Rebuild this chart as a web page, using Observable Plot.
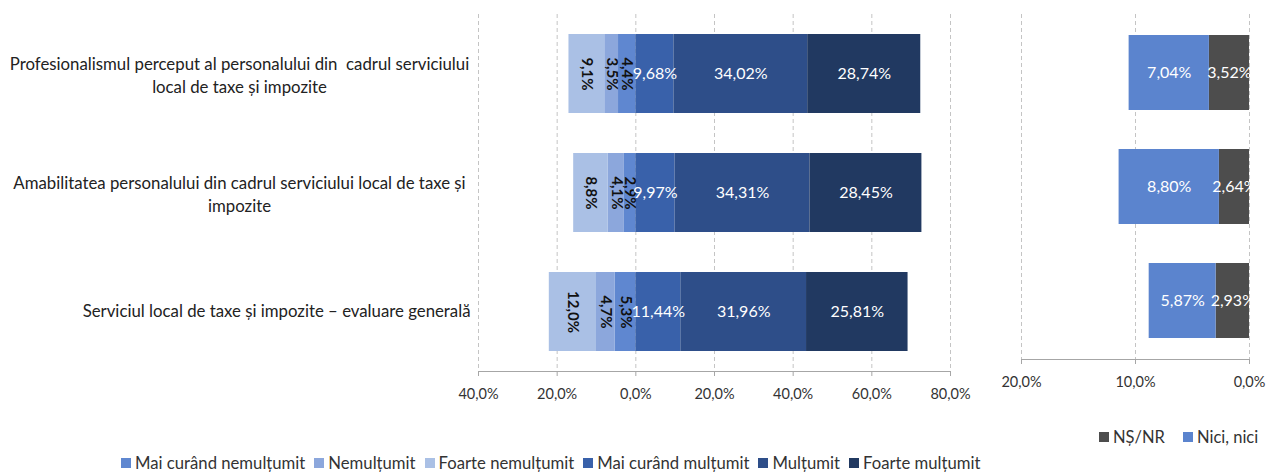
<!DOCTYPE html>
<html>
<head>
<meta charset="utf-8">
<script src="https://cdn.jsdelivr.net/npm/d3@7"></script>
<script src="https://cdn.jsdelivr.net/npm/@observablehq/plot@0.6"></script>
<style>
  html, body { margin: 0; padding: 0; background: #fff; }
  #wrap { position: relative; width: 1268px; height: 473px; overflow: hidden; font-family: Lato, sans-serif; color: #333; }
  #left { position: absolute; left: 0; top: 0; }
  #right { position: absolute; left: 1000px; top: 0; }
  .legend { position: absolute; display: flex; align-items: center; white-space: nowrap; color: #333; }
  .legend .item { display: inline-flex; align-items: center; }
  .legend .sw { width: 10px; height: 10px; margin-right: 4px; display: inline-block; }
  #legend1 { left: 121px; top: 453px; font-size: 16.7px; }
  #legend1 .item { margin-right: 9px; }
  #legend2 { left: 1099px; top: 427px; font-size: 16.5px; }
  #legend2 .item { margin-right: 18px; }
  #legend2 .item:last-child { margin-right: 0; }
</style>
</head>
<body>
<div id="wrap">
  <div id="left"></div>
  <div id="right"></div>
  <div id="legend1" class="legend"></div>
  <div id="legend2" class="legend"></div>
</div>
<script>
// ---- Data ----
const categories = [
  "Profesionalismul perceput al personalului din cadrul serviciului local de taxe și impozite",
  "Amabilitatea personalului din cadrul serviciului local de taxe și impozite",
  "Serviciul local de taxe și impozite – evaluare generală"
];
const categoryLines = [
  "Profesionalismul perceput al personalului din  cadrul serviciului\nlocal de taxe și impozite",
  "Amabilitatea personalului din cadrul serviciului local de taxe și\nimpozite",
  "Serviciul local de taxe și impozite – evaluare generală"
];

const leftSeries = ["Mai curând nemulțumit", "Nemulțumit", "Foarte nemulțumit", "Mai curând mulțumit", "Mulțumit", "Foarte mulțumit"];
const negativeSeries = ["Mai curând nemulțumit", "Nemulțumit", "Foarte nemulțumit"];

const maiCurandNemultumit = [4.4, 2.9, 5.3];
const nemultumit = [3.5, 4.1, 4.7];
const foarteNemultumit = [9.1, 8.8, 12.0];
const maiCurandMultumit = [9.68, 9.97, 11.44];
const multumit = [34.02, 34.31, 31.96];
const foarteMultumit = [28.74, 28.45, 25.81];

const rightSeries = ["NȘ/NR", "Nici, nici"];
const nsnr = [3.52, 2.64, 2.93];
const niciNici = [7.04, 8.80, 5.87];

const leftTicks = [-40, -20, 0, 20, 40, 60, 80];
const rightTicks = [0, 10, 20];

// ---- Styles ----
const leftColors = ["#5f87d0", "#8ca7dc", "#aac0e5", "#3961aa", "#2e4e89", "#213961"];
const rightColors = ["#4d4d4d", "#5b84ce"];

// ---- Build tables ----
const leftValues = [maiCurandNemultumit, nemultumit, foarteNemultumit, maiCurandMultumit, multumit, foarteMultumit];
const leftData = [];
categories.forEach((c, i) => {
  leftSeries.forEach((s, j) => {
    const v = leftValues[j][i];
    leftData.push({category: c, series: s, value: negativeSeries.includes(s) ? -v : v});
  });
});
const rightValues = [nsnr, niciNici];
const rightData = [];
categories.forEach((c, i) => {
  rightSeries.forEach((s, j) => rightData.push({category: c, series: s, value: rightValues[j][i]}));
});

const labelOf = d => categoryLines[categories.indexOf(d)];
const multiLineCats = categories.filter(c => labelOf(c).includes("\n"));
const singleLineCats = categories.filter(c => !labelOf(c).includes("\n"));

const fmt1 = v => v.toFixed(1).replace(".", ",") + "%";
const fmt2 = v => v.toFixed(2).replace(".", ",") + "%";
const axisFmt = v => Math.abs(v).toFixed(1).replace(".", ",") + "%";

const gridColor = "#c4c4c4";
const axisColor = "#a6a6a6";

const left = Plot.plot({
  width: 1000,
  height: 411,
  marginLeft: 478,
  marginRight: 50,
  marginTop: 14,
  marginBottom: 40,
  style: {fontFamily: "Lato, sans-serif", fontSize: "15px", color: "#333", background: "transparent"},
  x: {domain: [-40, 80], label: null},
  y: {domain: categories, paddingInner: 0.336, paddingOuter: 0.168, label: null},
  color: {domain: leftSeries, range: leftColors},
  marks: [
    Plot.gridX(leftTicks, {stroke: gridColor, strokeOpacity: 1, strokeDasharray: "4,3"}),
    Plot.barX(leftData, Plot.stackX({x: "value", y: "category", fill: "series"})),
    Plot.text(leftData, Plot.stackX({
      x: "value", y: "category", z: "series",
      text: d => d.value < 0 ? fmt1(-d.value) : null,
      rotate: 90, fontWeight: "bold", fill: "#111", fontSize: 15
    })),
    Plot.text(leftData, Plot.stackX({
      x: "value", y: "category", z: "series",
      text: d => d.value > 0 ? fmt2(d.value) : null,
      fill: "white", fontSize: 16
    })),
    Plot.frame({anchor: "bottom", stroke: axisColor}),
    Plot.axisX(leftTicks, {tickFormat: axisFmt, tickSize: 5, tickPadding: 12, stroke: axisColor, fill: "#333", fontSize: 14.5, label: null}),
    Plot.axisY(multiLineCats, {
      tickSize: 0, tickPadding: 239, textAnchor: "middle", lineHeight: 1.4,
      tickFormat: labelOf, fontSize: 16.8, fill: "#222", label: null
    }),
    Plot.axisY(singleLineCats, {
      tickSize: 0, tickPadding: 8, textAnchor: "end",
      tickFormat: labelOf, fontSize: 16.8, fill: "#222", label: null
    })
  ]
});
document.getElementById("left").appendChild(left);

const right = Plot.plot({
  width: 268,
  height: 399,
  marginLeft: 21,
  marginRight: 19,
  marginTop: 14,
  marginBottom: 40,
  style: {fontFamily: "Lato, sans-serif", fontSize: "15px", color: "#333", background: "transparent"},
  x: {domain: [0, 20], reverse: true, label: null},
  y: {domain: categories, paddingInner: 0.339, paddingOuter: 0.17, axis: null},
  color: {domain: rightSeries, range: rightColors},
  marks: [
    Plot.gridX(rightTicks, {stroke: gridColor, strokeOpacity: 1, strokeDasharray: "4,3"}),
    Plot.barX(rightData, Plot.stackX({x: "value", y: "category", fill: "series"})),
    Plot.text(rightData, Plot.stackX({
      x: "value", y: "category", z: "series",
      text: d => fmt2(d.value), fill: "white", fontSize: 16, clip: true
    })),
    Plot.frame({anchor: "bottom", stroke: axisColor}),
    Plot.axisX(rightTicks, {tickFormat: axisFmt, tickSize: 5, tickPadding: 12, stroke: axisColor, fill: "#333", fontSize: 14.5, label: null})
  ]
});
document.getElementById("right").appendChild(right);

function buildLegend(el, series, colors) {
  series.forEach((s, i) => {
    const item = document.createElement("span");
    item.className = "item";
    const sw = document.createElement("span");
    sw.className = "sw";
    sw.style.background = colors[i];
    item.appendChild(sw);
    item.appendChild(document.createTextNode(s));
    el.appendChild(item);
  });
}
buildLegend(document.getElementById("legend1"), leftSeries, leftColors);
buildLegend(document.getElementById("legend2"), rightSeries, rightColors);
</script>
</body>
</html>
